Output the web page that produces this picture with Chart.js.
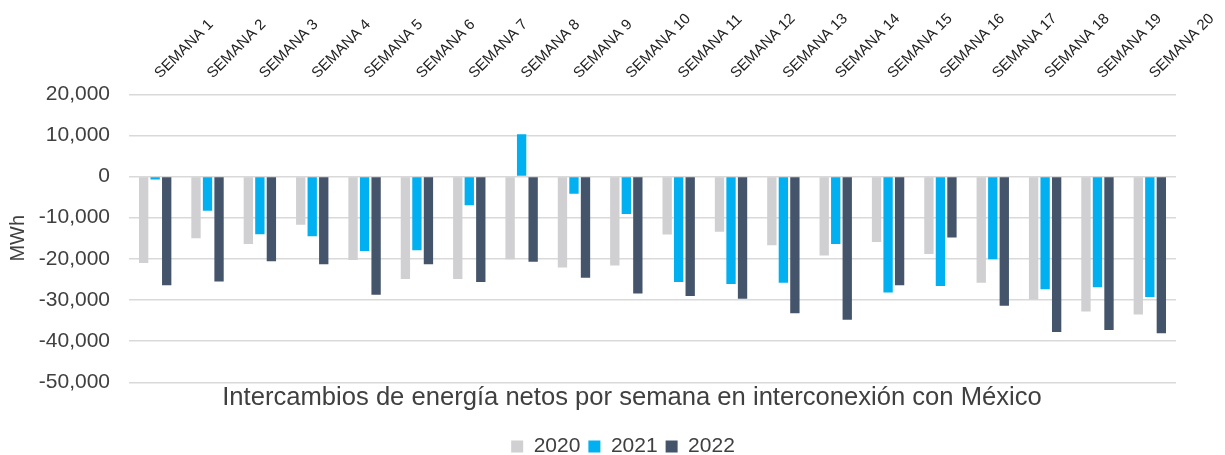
<!DOCTYPE html>
<html>
<head>
<meta charset="utf-8">
<script src="https://cdn.jsdelivr.net/npm/chart.js@4"></script>
<style>
    html, body { margin: 0; padding: 0; background: #fff; }
    #wrap { width: 1225px; height: 455px; position: relative; }
</style>
</head>
<body>
<div id="wrap"><canvas id="chart"></canvas></div>
<script>
const semanas = ['SEMANA 1', 'SEMANA 2', 'SEMANA 3', 'SEMANA 4', 'SEMANA 5', 'SEMANA 6', 'SEMANA 7',
    'SEMANA 8', 'SEMANA 9', 'SEMANA 10', 'SEMANA 11', 'SEMANA 12', 'SEMANA 13', 'SEMANA 14',
    'SEMANA 15', 'SEMANA 16', 'SEMANA 17', 'SEMANA 18', 'SEMANA 19', 'SEMANA 20'];

const valores2020 = [-21000, -15000, -16400, -11700, -20300, -24900, -24900, -20100, -22100, -21600,
    -14100, -13400, -16700, -19200, -15900, -18800, -25800, -29900, -32800, -33500];
const valores2021 = [-700, -8300, -14000, -14500, -18100, -17900, -7000, 10300, -4200, -9100,
    -25600, -26100, -25800, -16400, -28200, -26600, -20100, -27400, -26900, -29300];
const valores2022 = [-26400, -25500, -20600, -21300, -28700, -21300, -25600, -20700, -24600, -28400,
    -29000, -29700, -33200, -34800, -26400, -14800, -31400, -37800, -37300, -38100];

const years = ['2020', '2021', '2022'];
const yTicks = [20000, 10000, 0, -10000, -20000, -30000, -40000, -50000];

const textColor = '#404040';
Chart.defaults.font.family = '"Liberation Sans", Arial, sans-serif';
Chart.defaults.color = textColor;

// title and legend sit a bit right of the canvas centre in the original
const nudgeBottom = {
    id: 'nudgeBottom',
    afterLayout(chart) {
        chart.titleBlock.left += 41;
        chart.titleBlock.right += 41;
        chart.legend.left += 32;
        chart.legend.right += 32;
    }
};

new Chart(document.getElementById('chart'), {
    type: 'bar',
    data: {
        labels: semanas,
        datasets: [
            { label: years[0], data: valores2020, backgroundColor: '#d0cfd1' },
            { label: years[1], data: valores2021, backgroundColor: '#00b0f0' },
            { label: years[2], data: valores2022, backgroundColor: '#44546a' }
        ]
    },
    plugins: [nudgeBottom],
    options: {
        responsive: true,
        maintainAspectRatio: false,
        animation: false,
        layout: { padding: { left: 6, right: 49, top: 6, bottom: -12 } },
        datasets: {
            bar: { barPercentage: 0.81, categoryPercentage: 0.66 }
        },
        plugins: {
            title: {
                display: true,
                position: 'bottom',
                text: 'Intercambios de energía netos por semana en interconexión con México',
                font: { size: 25.6, weight: 'normal' },
                color: textColor,
                weight: 500,
                padding: { top: 0, bottom: 15 }
            },
            legend: {
                position: 'bottom',
                weight: 1000,
                labels: {
                    boxWidth: 12,
                    boxHeight: 12,
                    padding: 8,
                    font: { size: 21 },
                    color: textColor
                }
            },
            tooltip: { enabled: false }
        },
        scales: {
            x: {
                position: 'top',
                grid: { display: false },
                border: { display: false },
                afterFit(axis) {
                    axis.paddingLeft = 0;
                    axis.paddingRight = 0;
                },
                ticks: {
                    minRotation: 45,
                    maxRotation: 45,
                    autoSkip: false,
                    padding: 4,
                    labelOffset: 15,
                    font: { size: 15 },
                    color: '#222'
                }
            },
            y: {
                min: -50000,
                max: 20000,
                afterBuildTicks(axis) {
                    axis.ticks = yTicks.map(v => ({ value: v }));
                },
                afterFit(axis) {
                    axis.width = 123;
                },
                grid: { color: '#d9d9d9', lineWidth: 1.5, drawTicks: false },
                border: { display: false },
                ticks: {
                    padding: 19,
                    font: { size: 21 },
                    color: textColor,
                    callback: value => value.toLocaleString('en-US')
                },
                title: {
                    display: true,
                    text: 'MWh',
                    font: { size: 20 },
                    color: textColor,
                    padding: { top: 0, bottom: 4 }
                }
            }
        }
    }
});
</script>
</body>
</html>
